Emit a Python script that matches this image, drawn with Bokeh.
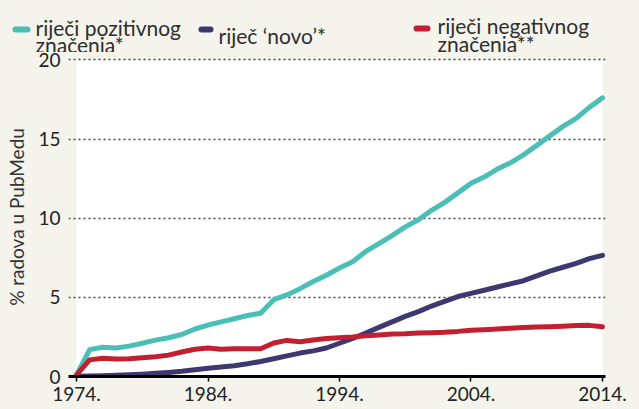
from bokeh.plotting import figure
from bokeh.models import Range1d, FixedTicker
from bokeh.core.properties import value
from bokeh.embed import file_html
from bokeh.resources import INLINE

years = list(range(1974, 2015))
pozitivne = [0.1, 1.7, 1.85, 1.8, 1.92, 2.1, 2.3, 2.45, 2.65, 3.0,
             3.25, 3.45, 3.65, 3.85, 4.0, 4.85, 5.15, 5.55, 6.0, 6.4,
             6.85, 7.25, 7.9, 8.4, 8.9, 9.45, 9.9, 10.5, 11.0, 11.6,
             12.2, 12.6, 13.1, 13.5, 14.0, 14.6, 15.2, 15.8, 16.3, 17.0, 17.6]
novo = [0.02, 0.03, 0.05, 0.08, 0.11, 0.15, 0.2, 0.26, 0.33, 0.42,
        0.52, 0.6, 0.68, 0.8, 0.95, 1.12, 1.3, 1.48, 1.62, 1.8,
        2.1, 2.4, 2.75, 3.1, 3.45, 3.8, 4.1, 4.45, 4.75, 5.05,
        5.25, 5.45, 5.65, 5.85, 6.05, 6.35, 6.65, 6.9, 7.15, 7.45, 7.65]
negativne = [0.1, 1.05, 1.15, 1.1, 1.12, 1.18, 1.25, 1.35, 1.55, 1.72,
             1.8, 1.72, 1.75, 1.76, 1.75, 2.12, 2.28, 2.2, 2.3, 2.4,
             2.45, 2.5, 2.57, 2.62, 2.68, 2.7, 2.75, 2.77, 2.8, 2.85,
             2.92, 2.96, 3.0, 3.05, 3.1, 3.12, 3.15, 3.18, 3.22, 3.23, 3.14]

tick_years = [1974, 1984, 1994, 2004, 2014]
tick_labels = ["1974.", "1984.", "1994.", "2004.", "2014."]
y_ticks = [0, 5, 10, 15, 20]
grid_ticks = [5, 10, 15, 20]
y_max = 20

names = [["riječi pozitivnog", "značenja*"], ["riječ ‘novo’*"], ["riječi negativnog", "značenja**"]]
colors = ["#4BBFB7", "#3D3870", "#C21F30"]
series = [pozitivne, novo, negativne]

BG = "#F4F4ED"
FONT = "Lato"
W = 639
H = 409
LEG_H = 52

# ---------- legend strip (pixel coordinates of the strip) ----------
leg = figure(width=W, height=LEG_H, output_backend="svg", toolbar_location=None,
             x_range=Range1d(0, W), y_range=Range1d(LEG_H, 0),
             min_border=0, x_axis_type=None, y_axis_type=None)
leg.background_fill_color = BG
leg.border_fill_color = BG
leg.outline_line_color = None
leg.grid.visible = False

swatch_pos = [(15, 27, 29), (201, 210, 29), (416, 427, 28)]
text_pos = [[(35, 26.5), (35, 44)], [(218, 35)], [(437, 25), (437, 42.5)]]
for (x0, x1, yc), lines, c, tpos in zip(swatch_pos, names, colors, text_pos):
    leg.segment(x0=[x0], y0=[yc], x1=[x1], y1=[yc], line_color=c, line_width=6, line_cap="round")
    leg.text(x=[t[0] for t in tpos], y=[t[1] for t in tpos], text=lines,
             text_font=value(FONT), text_font_size="21px", text_color="#2E2E2E",
             text_baseline="alphabetic", text_align="left")

# ---------- main chart ----------
p = figure(width=W, height=H - LEG_H, output_backend="svg", toolbar_location=None,
           x_range=Range1d(1973.39, 2014.23), y_range=Range1d(0, 20.15),
           min_border_left=68, min_border_right=34, min_border_top=5, min_border_bottom=33)
p.background_fill_color = BG
p.border_fill_color = BG
p.outline_line_color = None

# white plot area
p.quad(left=[years[0]], right=[years[-1]], bottom=[0], top=[y_max],
       fill_color="white", line_color=None, level="image")

for vals, c in zip(series, colors):
    p.line(years, vals, line_color=c, line_width=5, line_join="round", line_cap="round")

p.xaxis.ticker = FixedTicker(ticks=tick_years)
p.xaxis.major_label_overrides = {y: l for y, l in zip(tick_years, tick_labels)}
p.xaxis.axis_line_color = "black"
p.xaxis.axis_line_width = 3
p.xaxis.major_tick_line_color = "black"
p.xaxis.major_tick_line_width = 1.5
p.xaxis.major_tick_out = 5
p.xaxis.major_tick_in = 0
p.xaxis.minor_tick_line_color = None
p.xaxis.major_label_standoff = 5
p.xaxis.major_label_text_font = FONT
p.xaxis.major_label_text_font_size = "19px"
p.xaxis.major_label_text_color = "#222222"

p.yaxis.ticker = FixedTicker(ticks=y_ticks)
p.yaxis.axis_line_color = None
p.yaxis.major_tick_line_color = None
p.yaxis.minor_tick_line_color = None
p.yaxis.major_label_standoff = 2
p.yaxis.major_label_text_font = FONT
p.yaxis.major_label_text_font_size = "19px"
p.yaxis.major_label_text_color = "#222222"
p.yaxis.axis_label = "% radova u PubMedu"
p.yaxis.axis_label_text_font = FONT
p.yaxis.axis_label_text_font_size = "19px"
p.yaxis.axis_label_text_font_style = "normal"
p.yaxis.axis_label_text_color = "#333333"
p.yaxis.axis_label_standoff = 7

p.xgrid.grid_line_color = None
p.ygrid.ticker = FixedTicker(ticks=grid_ticks)
p.ygrid.grid_line_color = "#444444"
p.ygrid.grid_line_dash = "2 3"
p.ygrid.grid_line_width = 1.5

# two independent roots (no frame alignment between them), stacked vertically
html = file_html([leg, p], INLINE)
html = html.replace("<head>", "<head><style>body{background:%s;} body > div{display:block;margin:0;padding:0;line-height:0;}</style>" % BG, 1)
open("out.html", "w").write(html)
